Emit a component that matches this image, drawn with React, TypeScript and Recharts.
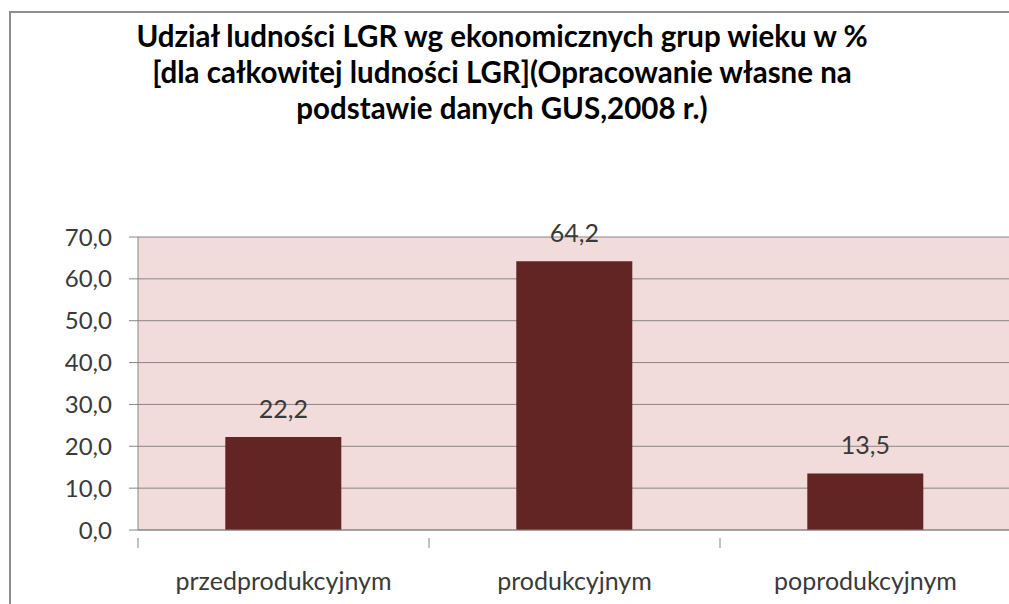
import { useEffect } from "react";
import { BarChart, Bar, XAxis, YAxis, CartesianGrid, LabelList } from "recharts";

const titleLines = [
  "Udział ludności LGR wg ekonomicznych grup wieku w %",
  "[dla całkowitej ludności LGR](Opracowanie własne na",
  "podstawie danych GUS,2008 r.)",
];
const categories = ["przedprodukcyjnym", "produkcyjnym", "poprodukcyjnym"];
const shares = [22.2, 64.2, 13.5];
const yTicks = [0, 10, 20, 30, 40, 50, 60, 70];

const data = categories.map((name, i) => ({ name, value: shares[i] }));

const FONT = "Lato, 'Open Sans', sans-serif";
const GRID = "#868686";
const TEXT = "#3a3a3a";

const fmt = (v: number) => v.toFixed(1).replace(".", ",");

function CategoryTick(props: any) {
  const { x, y, payload, index } = props;
  const half = payload?.offset ?? 0;
  return (
    <g>
      <line x1={x - half} y1={y} x2={x - half} y2={y + 10} stroke={GRID} strokeWidth={1} />
      {index === categories.length - 1 && (
        <line x1={x + half} y1={y} x2={x + half} y2={y + 10} stroke={GRID} strokeWidth={1} />
      )}
      <text x={x} y={y + 52} textAnchor="middle" fill={TEXT} fontSize={25} fontFamily={FONT}>
        {payload.value}
      </text>
    </g>
  );
}

export default function App() {
  useEffect(() => {
    document.body.style.margin = "0";
    document.documentElement.style.overflow = "hidden";
  }, []);

  return (
    <div
      style={{
        position: "fixed",
        left: 0,
        top: 0,
        width: 1060,
        height: 604,
        overflow: "hidden",
        background: "#fff",
      }}
    >
      {/* chart area frame; right and bottom edges fall outside the picture */}
      <div
        style={{
          position: "absolute",
          left: 9,
          top: 11,
          width: 1400,
          height: 900,
          boxSizing: "border-box",
          borderTop: "2px solid #8e8e8e",
          borderLeft: "2px solid #8e8e8e",
        }}
      />
      <div
        style={{
          position: "absolute",
          left: 0,
          top: 18,
          width: 1004,
          textAlign: "center",
          fontFamily: FONT,
          fontWeight: 700,
          fontSize: 29.5,
          lineHeight: "36px",
          color: "#000",
          whiteSpace: "nowrap",
        }}
      >
        {titleLines.map((t) => (
          <div key={t}>{t}</div>
        ))}
      </div>
      <div style={{ position: "absolute", left: 0, top: 0 }}>
        <BarChart
          width={1012}
          height={604}
          data={data}
          margin={{ top: 237, right: 1, left: 0, bottom: 0 }}
          barCategoryGap="30%"
        >
          <CartesianGrid vertical={false} stroke={GRID} fill="#f2dcdb" fillOpacity={1} />
          <XAxis
            dataKey="name"
            height={74}
            axisLine={{ stroke: GRID }}
            tickLine={false}
            interval={0}
            tick={<CategoryTick />}
          />
          <YAxis
            width={138}
            domain={[0, 70]}
            ticks={yTicks}
            interval={0}
            tickFormatter={fmt}
            axisLine={{ stroke: GRID }}
            tickLine={{ stroke: GRID }}
            tickSize={9}
            tickMargin={17}
            tick={{ fill: TEXT, fontSize: 24, fontFamily: FONT }}
          />
          <Bar dataKey="value" fill="#632523" isAnimationActive={false}>
            <LabelList
              dataKey="value"
              position="top"
              offset={19}
              formatter={(v: any) => fmt(Number(v))}
              style={{ fill: TEXT, fontSize: 25, fontFamily: FONT }}
            />
          </Bar>
        </BarChart>
      </div>
    </div>
  );
}
